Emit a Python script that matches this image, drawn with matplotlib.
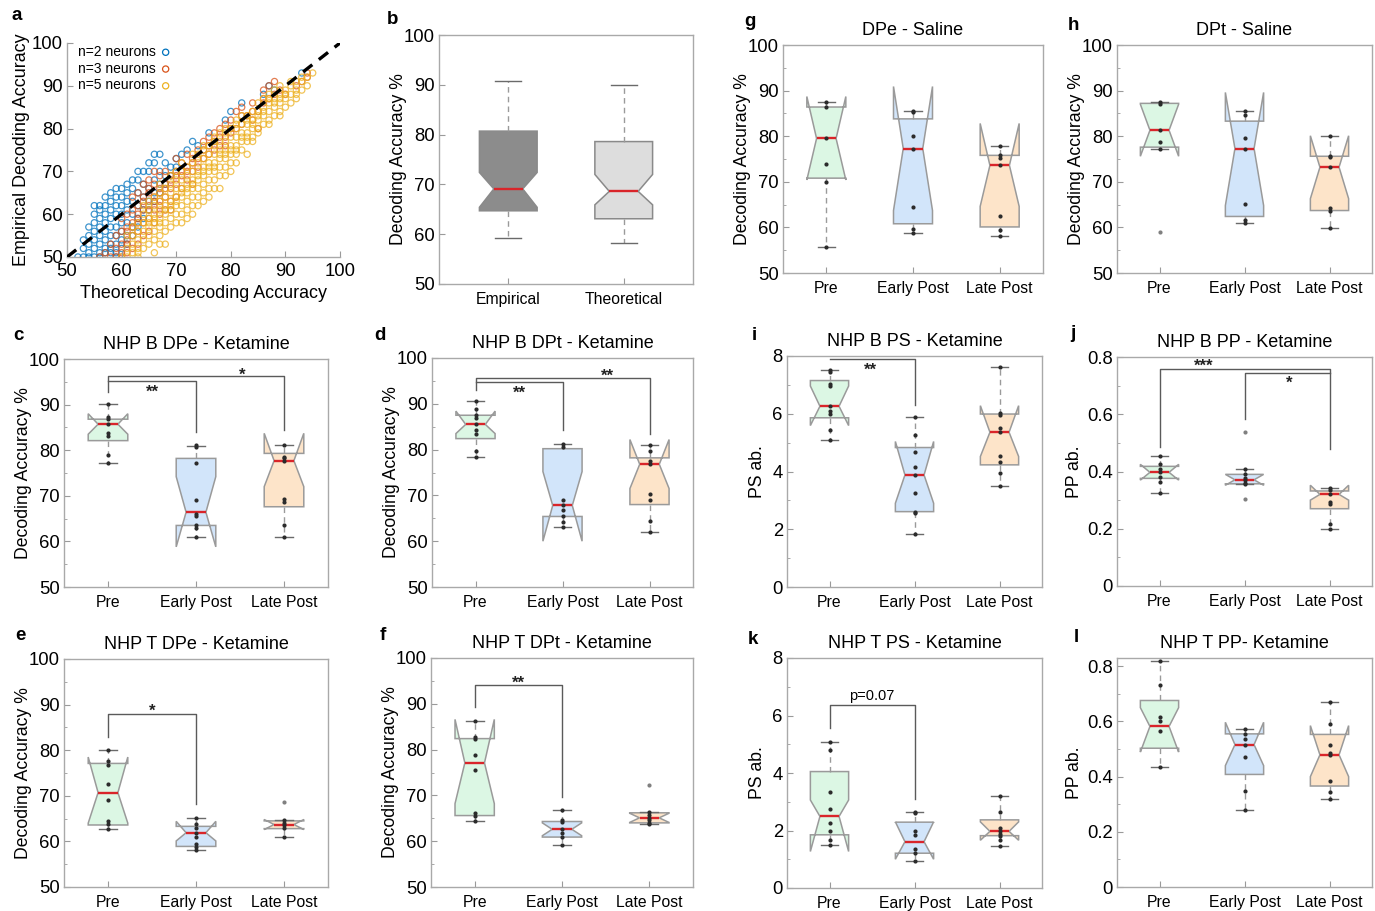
import matplotlib
matplotlib.use('Agg')
import matplotlib.pyplot as plt
from matplotlib.ticker import MultipleLocator, FuncFormatter
import numpy as np

plt.rcParams['font.family'] = ['Liberation Sans', 'DejaVu Sans']

# ---------------- DATA ----------------
# panel a: (theoretical, empirical) pairs
a_n2 = [(52,50),(53,50),(53,52),(54,50),(54,51),(54,53),(54,55),(55,50),(55,52),(55,54),(55,56),(55,58),
        (56,50),(56,51),(56,53),(56,55),(56,57),(56,59),(57,51),(57,52),(57,54),(57,56),(57,58),(57,60),(57,62),
        (58,52),(58,53),(58,55),(58,57),(58,59),(58,61),(58,63),(59,50),(59,53),(59,55),(59,57),(59,60),(59,62),
        (59,64),(60,54),(60,56),(60,58),(60,60),(60,62),(60,64),(61,55),(61,58),(61,61),(61,63),(61,65),(62,57),
        (62,60),(62,63),(62,66),(63,59),(63,62),(63,65),(63,68),(64,61),(64,64),(64,67),(65,63),(65,66),(65,70),
        (66,65),(66,68),(66,72),(67,67),(67,70),(67,74),(68,69),(68,72),(69,71),(70,73),(72,75),(73,77),(74,76),
        (76,79),(79,82),(80,84),(82,86),(86,88),(87,90),(88,89),(93,93),
        (53,54),(54,57),(55,60),(56,61),(57,64),(58,65),(59,66),(60,66),(61,67),(62,68),(63,70),(64,70),(65,72),
        (66,74),(58,51),(59,51),(60,52),(61,53),(62,55),(63,57),(64,59),(65,61),(66,63),(67,65),(68,67),(69,69),
        (70,71),(71,74),(56,62),(55,62)]
a_n3 = [(56,50),(57,51),(58,50),(58,53),(59,52),(59,55),(60,50),(60,53),(60,56),(60,59),(61,51),(61,54),(61,57),
        (61,60),(62,52),(62,55),(62,58),(62,61),(62,64),(63,53),(63,56),(63,59),(63,62),(63,65),(64,55),(64,58),
        (64,61),(64,64),(64,67),(65,56),(65,59),(65,62),(65,65),(65,68),(66,58),(66,61),(66,64),(66,67),(66,70),
        (67,60),(67,63),(67,66),(67,69),(68,61),(68,64),(68,67),(68,70),(69,63),(69,66),(69,69),(70,64),(70,67),
        (70,70),(70,73),(71,66),(71,69),(71,72),(72,68),(72,71),(72,74),(73,70),(73,73),(74,71),(74,75),(75,73),
        (75,77),(76,74),(76,78),(77,75),(77,79),(78,76),(78,80),(79,78),(79,81),(80,79),(80,82),(81,80),(81,84),
        (82,81),(82,85),(83,83),(84,82),(84,86),(85,84),(86,86),(86,89),(87,87),(87,90),(88,88),(88,91),(89,89),
        (90,88),(92,90),(93,91),(94,92),(94,93),(85,80),(79,76),(73,67),(69,61),
        (59,50),(60,51),(61,53),(62,57),(63,60),(64,63),(65,66),(66,63),(67,65),(68,66),(69,68),(70,69),(71,70),
        (72,70),(73,72),(74,73),(75,75),(76,76),(77,77),(78,78),(80,80),(82,83),(84,84),(86,87),(65,61),(67,62),
        (63,58),(61,56)]
a_n5 = [(60,50),(61,50),(61,52),(62,51),(62,53),(62,55),(63,50),(63,52),(63,54),(63,56),(64,52),(64,54),(64,56),
        (64,58),(64,60),(65,53),(65,55),(65,57),(65,59),(65,61),(66,54),(66,56),(66,58),(66,60),(66,62),(66,64),
        (67,55),(67,57),(67,59),(67,61),(67,63),(67,65),(68,56),(68,58),(68,60),(68,62),(68,64),(68,66),(69,57),
        (69,59),(69,61),(69,63),(69,65),(69,67),(70,58),(70,60),(70,62),(70,64),(70,66),(70,68),(70,70),(71,60),
        (71,62),(71,64),(71,66),(71,68),(71,70),(72,61),(72,63),(72,65),(72,67),(72,69),(72,71),(73,62),(73,64),
        (73,66),(73,68),(73,70),(73,72),(74,64),(74,66),(74,68),(74,70),(74,72),(74,74),(75,65),(75,67),(75,69),
        (75,71),(75,73),(75,75),(76,66),(76,68),(76,70),(76,72),(76,74),(76,76),(77,68),(77,70),(77,72),(77,74),
        (77,76),(77,78),(78,69),(78,71),(78,73),(78,75),(78,77),(78,79),(79,71),(79,73),(79,75),(79,77),(79,79),
        (80,72),(80,74),(80,76),(80,78),(80,80),(81,74),(81,76),(81,78),(81,80),(81,82),(82,75),(82,77),(82,79),
        (82,81),(82,83),(83,77),(83,79),(83,81),(83,83),(84,78),(84,80),(84,82),(84,84),(85,80),(85,82),(85,84),
        (85,86),(86,81),(86,83),(86,85),(86,87),(87,82),(87,84),(87,86),(87,88),(88,83),(88,85),(88,87),(88,89),
        (89,84),(89,86),(89,88),(89,90),(90,85),(90,87),(90,89),(91,86),(91,88),(91,90),(92,87),(92,89),(92,91),
        (93,89),(93,91),(94,90),(95,93),(72,59),(74,62),(76,64),(78,66),(80,70),(84,77),(68,53),(66,51),
        (61,55),(63,58),(65,63),(67,67),(69,69),(71,72),(73,74),(75,76),(77,77),(79,80),(81,81),(83,82),(85,83),
        (87,87),(89,87),(91,91),(93,92),(62,57),(64,62),(66,59),(68,61),(70,63),(72,66),(74,69),(76,71),(78,74),
        (80,75),(82,78),(84,81),(86,84),(88,86),(90,88),(92,88),(94,92),(67,58),(69,62),(71,65),(73,67),(75,70),
        (77,71),(79,74),(81,75),(83,78),(85,79),(87,81),(89,83),(65,58),(63,51),(67,53),(71,58),(73,60),(75,63),
        (77,66),(79,69),(81,72),(83,74)]
a_labels = ['n=2 neurons', 'n=3 neurons', 'n=5 neurons']

# box stats per group: (whisker low, q1, notch low, median, notch high, q3, whisker high)
b_groups = ['Empirical', 'Theoretical']
b_stats = [(59.2, 64.7, 65.4, 69.1, 72.4, 80.7, 90.8), (58.3, 63.1, 65.9, 68.6, 72.0, 78.6, 89.9)]

groups = ['Pre', 'Early Post', 'Late Post']

g_stats = [(55.6, 70.8, 70.4, 79.5, 88.7, 86.4, 87.6), (58.8, 60.8, 63.7, 77.3, 90.9, 83.8, 85.5),
           (58.2, 60.1, 64.6, 73.6, 82.8, 75.8, 77.8)]
g_pts = [[87.6, 86.4, 79.5, 73.9, 69.9, 55.6], [85.5, 85.2, 80.1, 77.3, 64.4, 59.6, 58.8],
         [77.8, 75.8, 75.3, 73.6, 62.4, 59.5, 58.2]]
g_out = [[], [], []]

h_stats = [(77.2, 77.6, 75.6, 81.3, 87.0, 87.2, 87.6), (61.0, 62.4, 64.8, 77.3, 89.6, 83.3, 85.5),
           (59.8, 63.7, 66.3, 73.2, 80.1, 75.6, 80.1)]
h_pts = [[87.6, 87.0, 81.3, 78.7, 77.2], [85.5, 84.6, 79.7, 77.3, 65.2, 61.6, 61.0],
         [80.1, 75.7, 75.4, 73.2, 64.2, 63.6, 59.8]]
h_out = [[59.1], [], []]

c_stats = [(77.2, 82.1, 83.5, 85.7, 88.0, 86.8, 90.1), (61.0, 63.5, 58.8, 66.4, 74.2, 78.2, 80.9),
           (60.9, 67.6, 72.0, 77.7, 83.7, 79.3, 81.1)]
c_pts = [[90.1, 87.2, 86.8, 85.7, 83.7, 83.1, 78.9, 77.2], [81.1, 80.8, 77.3, 69.0, 66.1, 65.5, 63.6, 63.0, 61.0],
         [81.1, 78.6, 78.2, 77.7, 69.4, 68.7, 63.6, 60.9]]
c_out = [[], [], []]

d_stats = [(78.3, 82.4, 83.5, 85.5, 88.4, 87.5, 90.6), (63.1, 65.4, 60.0, 67.8, 75.2, 80.2, 81.3),
           (62.1, 68.0, 71.5, 76.8, 82.2, 78.2, 80.9)]
d_pts = [[90.6, 88.9, 87.5, 86.8, 85.5, 84.2, 83.3, 79.7, 78.3], [81.3, 80.6, 69.0, 67.8, 66.8, 65.4, 64.3, 63.1],
         [80.9, 79.8, 77.6, 76.8, 70.2, 68.9, 64.4, 62.1]]
d_out = [[], [], []]

i_stats = [(5.08, 5.86, 5.59, 6.26, 6.96, 7.15, 7.51), (1.82, 2.61, 2.90, 3.88, 5.04, 4.83, 5.88),
           (3.51, 4.23, 4.52, 5.36, 6.28, 5.99, 7.63)]
i_pts = [[7.51, 7.45, 7.04, 6.96, 6.26, 6.09, 6.0, 5.45, 5.08], [5.88, 5.28, 4.67, 4.17, 3.88, 3.27, 2.61, 2.55, 1.82],
         [7.63, 6.03, 5.97, 5.5, 5.36, 4.55, 4.32, 3.94, 3.51]]
i_out = [[], [], []]

j_stats = [(0.325, 0.376, 0.370, 0.397, 0.425, 0.418, 0.454), (0.355, 0.357, 0.352, 0.371, 0.390, 0.390, 0.410),
           (0.200, 0.270, 0.300, 0.320, 0.352, 0.332, 0.342)]
j_pts = [[0.454, 0.427, 0.41, 0.397, 0.38, 0.363, 0.325], [0.41, 0.39, 0.378, 0.371, 0.36, 0.355],
         [0.342, 0.334, 0.32, 0.293, 0.288, 0.215, 0.2]]
j_out = [[], [0.538, 0.304], []]

e_stats = [(62.7, 63.6, 64.0, 70.7, 78.5, 77.1, 80.1), (58.1, 58.9, 60.1, 61.9, 64.4, 63.3, 65.1),
           (61.0, 62.8, 62.6, 63.7, 64.8, 64.5, 64.7)]
e_pts = [[80.1, 77.6, 76.8, 72.5, 69.1, 64.5, 63.8, 62.7], [65.1, 63.9, 62.9, 61.9, 61.0, 59.5, 58.8, 58.1],
         [64.7, 64.1, 63.7, 62.9, 61.0]]
e_out = [[], [], [68.7]]

f_stats = [(64.5, 65.6, 68.2, 77.1, 86.6, 82.4, 86.2), (59.1, 60.9, 61.2, 62.6, 64.0, 64.3, 66.9),
           (63.7, 64.0, 64.1, 65.1, 66.1, 66.2, 66.3)]
f_pts = [[86.2, 82.8, 82.4, 78.8, 75.6, 66.2, 65.6, 64.5], [66.9, 64.7, 64.2, 62.6, 61.7, 60.9, 59.1],
         [66.3, 65.8, 65.1, 64.6, 64.0, 63.7]]
f_out = [[], [], [72.2]]

k_stats = [(1.48, 1.85, 1.27, 2.49, 3.06, 4.05, 5.08), (0.94, 1.21, 1.00, 1.61, 2.30, 2.29, 2.64),
           (1.45, 1.82, 1.66, 1.97, 2.30, 2.37, 3.20)]
k_pts = [[5.08, 4.8, 3.33, 2.74, 2.26, 2.0, 1.68, 1.48], [2.64, 2.6, 1.99, 1.85, 1.37, 1.21, 0.94],
         [3.2, 2.64, 2.08, 1.97, 1.89, 1.8, 1.68, 1.45]]
k_out = [[], [], []]

l_stats = [(0.435, 0.503, 0.489, 0.582, 0.650, 0.676, 0.820), (0.280, 0.408, 0.440, 0.516, 0.597, 0.555, 0.573),
           (0.320, 0.366, 0.400, 0.479, 0.585, 0.553, 0.670)]
l_pts = [[0.82, 0.733, 0.616, 0.603, 0.567, 0.435], [0.573, 0.555, 0.537, 0.516, 0.47, 0.348, 0.28],
         [0.67, 0.591, 0.513, 0.485, 0.477, 0.386, 0.343, 0.32]]
l_out = [[], [], []]

# ---------------- STYLE ----------------
W, H = 1375, 911
fig = plt.figure(figsize=(W / 100, H / 100), dpi=100)
EDGE = '#9a9a9a'
RED = '#d9252a'
FILLS = ['#dcf7e4', '#d2e5fa', '#fde4c9']
DOT = '#2b2b2b'
OUTC = '#808080'
TICKFS = 13.3
CATFS = 11.3
YLFS = 12.7


def add_ax(x0, y0, x1, y1):
    return fig.add_axes([x0 / W, 1 - y1 / H, (x1 - x0) / W, (y1 - y0) / H])


def style_axes(ax, frame=True):
    for s in ax.spines.values():
        s.set_color('#a9a9a9')
        s.set_linewidth(1.0)
    if not frame:
        ax.spines['top'].set_visible(False)
        ax.spines['right'].set_visible(False)
    ax.tick_params(which='both', direction='in', color='#9a9a9a', labelcolor='black')
    ax.tick_params(axis='y', which='major', length=4, labelsize=TICKFS, pad=3)
    ax.tick_params(axis='y', which='minor', length=2.5)
    ax.tick_params(axis='x', which='major', length=4, labelsize=CATFS, pad=6)


def label(x, y, s):
    fig.text(x / W, 1 - y / H, s, fontsize=13.5, fontweight='bold', ha='center', va='center')


def gfmt(v, p):
    return '{:g}'.format(round(v, 3))


def boxpanel(ax, stats, pts, outs, fills, ylim, major, minor, ylabel, title=None,
             positions=None, width=0.45, cats=groups, xlim=(0.5, 3.5), lpad=-2):
    if positions is None:
        positions = list(range(1, len(stats) + 1))
    bst = []
    for (wlo, q1, cilo, med, cihi, q3, whi) in stats:
        bst.append(dict(med=med, q1=q1, q3=q3, cilo=cilo, cihi=cihi, whislo=wlo, whishi=whi, fliers=[]))
    r = ax.bxp(bst, positions=positions, widths=width, shownotches=True, patch_artist=True,
               showfliers=False, capwidths=width * 0.45,
               boxprops=dict(edgecolor=EDGE, linewidth=1.1),
               medianprops=dict(color=RED, linewidth=1.7),
               whiskerprops=dict(color=EDGE, linewidth=1.0, linestyle=(0, (4, 3))),
               capprops=dict(color='#6a6a6a', linewidth=1.0))
    for p, fc in zip(r['boxes'], fills):
        p.set_facecolor(fc)
    if pts is not None:
        for pos, vals in zip(positions, pts):
            ax.scatter([pos] * len(vals), vals, s=9, color=DOT, zorder=5, linewidths=0)
    if outs is not None:
        for pos, vals in zip(positions, outs):
            if vals:
                ax.scatter([pos] * len(vals), vals, s=9, color=OUTC, zorder=5, linewidths=0)
    ax.set_xlim(*xlim)
    ax.set_ylim(*ylim)
    ax.yaxis.set_major_locator(MultipleLocator(major))
    ax.yaxis.set_minor_locator(MultipleLocator(minor))
    ax.yaxis.set_major_formatter(FuncFormatter(gfmt))
    ax.set_xticks(positions)
    ax.set_xticklabels(cats)
    ax.set_ylabel(ylabel, fontsize=YLFS, labelpad=lpad)
    if title:
        ax.set_title(title, fontsize=13, pad=7)
    style_axes(ax)


def bracket(ax, x1, x2, y, y1, y2):
    ax.plot([x1, x1, x2, x2], [y1, y, y, y2], color='#5a5a5a', lw=1.0, zorder=6)


def star(ax, x, y, s, fs=12):
    ax.text(x, y, s, ha='center', va='center', fontsize=fs, fontweight='bold', color='#222222')


# ---------------- PANEL a ----------------
ax = add_ax(67, 43, 340, 257)
cols = ['#0072BD', '#D95319', '#EDB120']
for data, c, lab in zip([a_n2, a_n3, a_n5], cols, a_labels):
    arr = np.array(data, dtype=float)
    ax.scatter(arr[:, 0], arr[:, 1], s=20, facecolors='none', edgecolors=c, linewidths=0.9,
               alpha=0.75, label=lab)
ax.plot([50, 100], [50, 100], color='black', lw=2.4, linestyle=(0, (3.5, 2.5)), zorder=6)
ax.set_xlim(50, 100)
ax.set_ylim(50, 100)
ax.set_xticks(range(50, 101, 10))
ax.set_yticks(range(50, 101, 10))
ax.set_xlabel('Theoretical Decoding Accuracy', fontsize=12.9, labelpad=4)
ax.set_ylabel('Empirical Decoding Accuracy', fontsize=12.9, labelpad=1)
style_axes(ax, frame=False)
ax.tick_params(axis='x', labelsize=TICKFS, pad=4)
leg = ax.legend(loc='upper left', bbox_to_anchor=(0.01, 1.03), frameon=False, markerfirst=False,
                fontsize=10, handletextpad=0.2, labelspacing=0.2, borderaxespad=0.2, handlelength=1.0)
for hnd in leg.legend_handles:
    hnd.set_alpha(1)
label(17, 15, 'a')

# ---------------- PANEL b ----------------
ax = add_ax(439, 35, 693, 284)
boxpanel(ax, b_stats, None, None, ['#8c8c8c', '#dddddd'], (50, 100), 10, 100, 'Decoding Accuracy %',
         positions=[1, 2], width=0.5, cats=b_groups, xlim=(0.4, 2.6))
ax.yaxis.set_minor_locator(plt.NullLocator())
for p in ax.patches:
    p.set_edgecolor('#8a8a8a')
label(393, 20, 'b')

# ---------------- PANEL g, h ----------------
ax = add_ax(783, 45, 1043, 273)
boxpanel(ax, g_stats, g_pts, g_out, FILLS, (50, 100), 10, 5, 'Decoding Accuracy %', 'DPe - Saline')
label(750, 22, 'g')

ax = add_ax(1117, 45, 1372, 273)
boxpanel(ax, h_stats, h_pts, h_out, FILLS, (50, 100), 10, 5, 'Decoding Accuracy %', 'DPt - Saline')
label(1073, 25, 'h')

# ---------------- PANEL c ----------------
ax = add_ax(64, 359, 328, 587)
boxpanel(ax, c_stats, c_pts, c_out, FILLS, (50, 100), 10, 5, 'Decoding Accuracy %', 'NHP B DPe - Ketamine')
bracket(ax, 1, 3, 96.3, 92.8, 84.5)
bracket(ax, 1, 2, 95.1, 95.1, 84.1)
star(ax, 1.5, 92.6, '**')
star(ax, 2.52, 96.4, '*')
label(18, 336, 'c')

# ---------------- PANEL d ----------------
ax = add_ax(432, 358, 693, 587)
boxpanel(ax, d_stats, d_pts, d_out, FILLS, (50, 100), 10, 5, 'Decoding Accuracy %', 'NHP B DPt - Ketamine')
bracket(ax, 1, 3, 95.6, 93.1, 83.5)
bracket(ax, 1, 2, 94.7, 94.7, 84.2)
star(ax, 1.5, 92.4, '**')
star(ax, 2.52, 96.0, '**')
label(380, 336, 'd')

# ---------------- PANEL i ----------------
ax = add_ax(787, 356, 1042, 587)
boxpanel(ax, i_stats, i_pts, i_out, FILLS, (0, 8), 2, 1, 'PS ab.', 'NHP B PS - Ketamine', lpad=5)
bracket(ax, 1, 2, 7.88, 7.88, 6.32)
star(ax, 1.48, 7.5, '**')
label(754, 336, 'i')

# ---------------- PANEL j ----------------
ax = add_ax(1117, 357, 1372, 586)
boxpanel(ax, j_stats, j_pts, j_out, FILLS, (0, 0.8), 0.2, 0.1, 'PP ab.', 'NHP B PP - Ketamine', lpad=3)
bracket(ax, 1, 3, 0.759, 0.485, 0.48)
bracket(ax, 2, 3, 0.744, 0.585, 0.744)
star(ax, 1.52, 0.768, '***')
star(ax, 2.52, 0.708, '*')
label(1073, 333, 'j')

# ---------------- PANEL e ----------------
ax = add_ax(64, 659, 328, 887)
boxpanel(ax, e_stats, e_pts, e_out, FILLS, (50, 100), 10, 5, 'Decoding Accuracy %', 'NHP T DPe - Ketamine')
bracket(ax, 1, 2, 87.9, 83.0, 68.3)
star(ax, 1.5, 88.5, '*')
label(20, 636, 'e')

# ---------------- PANEL f ----------------
ax = add_ax(431, 658, 693, 887)
boxpanel(ax, f_stats, f_pts, f_out, FILLS, (50, 100), 10, 5, 'Decoding Accuracy %', 'NHP T DPt - Ketamine')
bracket(ax, 1, 2, 94.0, 89.4, 69.6)
star(ax, 1.5, 94.4, '**')
label(383, 636, 'f')

# ---------------- PANEL k ----------------
ax = add_ax(787, 658, 1042, 888)
boxpanel(ax, k_stats, k_pts, k_out, FILLS, (0, 8), 2, 1, 'PS ab.', 'NHP T PS - Ketamine', lpad=5)
bracket(ax, 1, 2, 6.36, 5.55, 3.1)
ax.text(1.5, 6.45, 'p=0.07', ha='center', va='bottom', fontsize=10.5)
label(753, 640, 'k')

# ---------------- PANEL l ----------------
ax = add_ax(1117, 658, 1372, 887)
boxpanel(ax, l_stats, l_pts, l_out, FILLS, (0, 0.83), 0.2, 0.1, 'PP ab.', 'NHP T PP- Ketamine', lpad=3)
label(1076, 638, 'l')

fig.savefig('out.png', dpi=100)
